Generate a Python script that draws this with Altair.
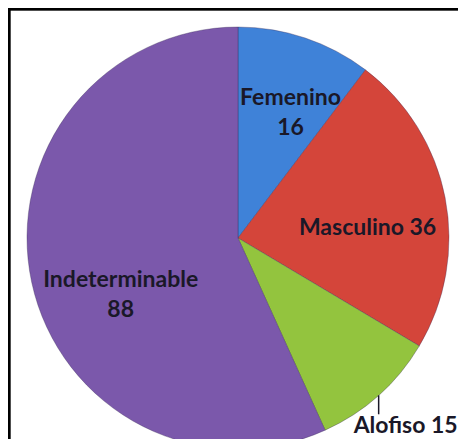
import altair as alt
import pandas as pd

categories = ["Femenino", "Masculino", "Alofiso", "Indeterminable"]
values = [16, 36, 15, 88]
label_texts = [["Femenino", "16"], ["Masculino 36"], ["Alofiso 15"], ["Indeterminable", "88"]]
colors = ["#3f82d8", "#d4453a", "#93c43e", "#7b58ab"]

df = pd.DataFrame({"cat": categories, "value": values, "order": list(range(len(categories)))})
df["label"] = label_texts
TOTAL = float(sum(values))

W, H = 450, 431
CX, CY, R = 230, 230, 211

base = alt.Chart(df)

pie = base.mark_arc(stroke="#3a2a55", strokeOpacity=0.35, strokeWidth=1).encode(
    theta=alt.Theta("value:Q", stack=True),
    order=alt.Order("order:Q"),
    color=alt.Color("cat:N", scale=alt.Scale(domain=categories, range=colors), legend=None),
    x=alt.value(CX), y=alt.value(CY),
    radius=alt.value(R),
)


def positioned(chart, r):
    return chart.transform_window(
        cum="sum(value)", sort=[alt.SortField("order")], frame=[None, 0]
    ).transform_calculate(
        mid=f"(datum.cum - datum.value/2) / {TOTAL} * 2 * PI",
    ).transform_calculate(
        px=f"{CX} + {r} * sin(datum.mid)",
        py=f"{CY} - {r} * cos(datum.mid)",
    )


FONT = "Lato"
TXT = "#1a1828"


def label(cat, r, dx, dy):
    c = positioned(base, r).transform_filter(alt.datum.cat == cat)
    return c.mark_text(font=FONT, fontWeight="bold", fontSize=23, color=TXT,
                       lineHeight=30, align="center", baseline="middle", dx=dx, dy=dy).encode(
        x=alt.X("px:Q", scale=None, axis=None),
        y=alt.Y("py:Q", scale=None, axis=None),
        text="label",
    )


lab_f = label("Femenino", 146, 6, -2)
lab_m = label("Masculino", 132, 0, 15)
lab_i = label("Indeterminable", 120, 0, 17)
lab_a = label("Alofiso", R, 27, 31)

tick = positioned(base, R).transform_filter(alt.datum.cat == "Alofiso").transform_calculate(
    py2="datum.py + 19"
).mark_rule(color="#1a1828", strokeWidth=1.5).encode(
    x=alt.X("px:Q", scale=None, axis=None),
    y=alt.Y("py:Q", scale=None, axis=None),
    y2="py2:Q",
)

frame_top = base.mark_rule(color="#000000", strokeWidth=2.5).encode(
    x=alt.value(0), x2=alt.value(W), y=alt.value(1)
)
frame_left = base.mark_rule(color="#000000", strokeWidth=2.5).encode(
    x=alt.value(1), y=alt.value(0), y2=alt.value(H)
)

chart = alt.layer(pie, tick, lab_f, lab_m, lab_i, lab_a, frame_top, frame_left).properties(
    width=W, height=H, padding=0, autosize=alt.AutoSizeParams(type="none")
).configure_view(stroke=None).configure(background="white")

chart.save("out.html", embed_options={"renderer": "svg", "actions": False})
